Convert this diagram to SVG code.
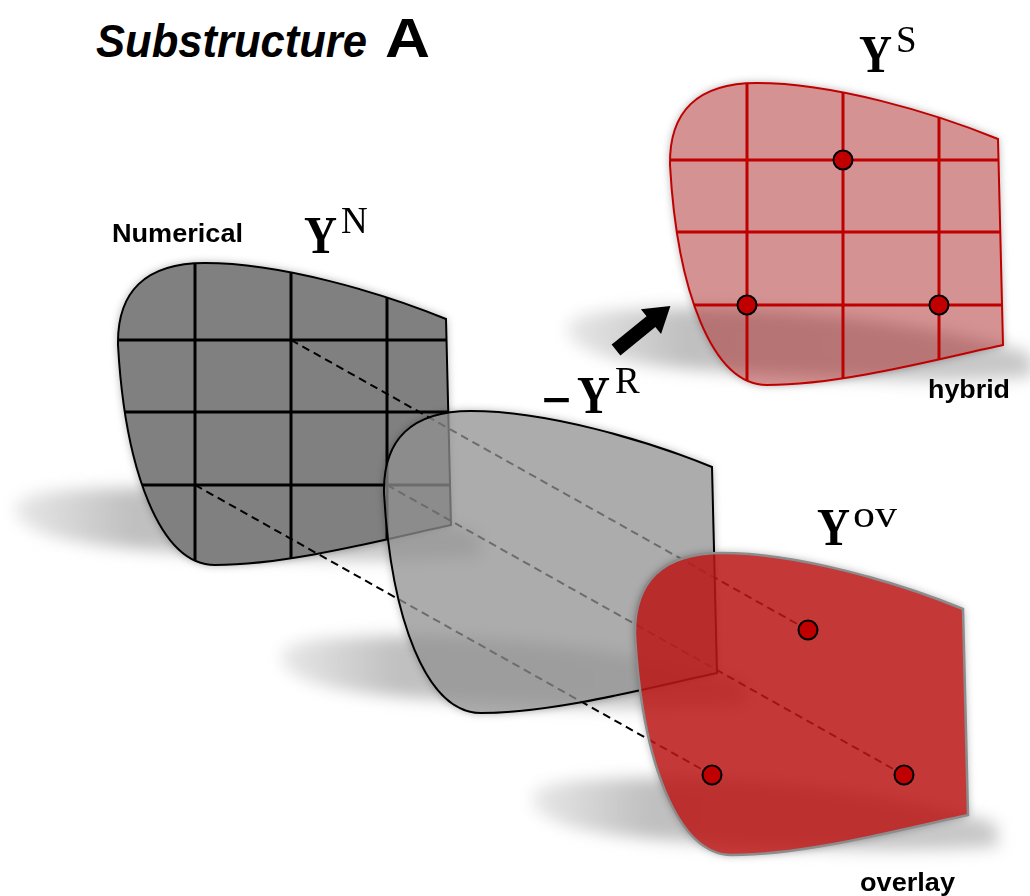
<svg xmlns="http://www.w3.org/2000/svg" width="1030" height="896" viewBox="0 0 1030 896">
<defs>
<style>
.lbl{font-family:"Liberation Sans",Arial,sans-serif;font-weight:bold;fill:#000}
.my{font-family:"Liberation Serif","Times New Roman",serif;font-weight:bold;font-size:52px;fill:#000}
.ms{font-family:"Liberation Serif","Times New Roman",serif;font-size:37px;fill:#000}
.minus{font-family:"DejaVu Serif",serif;font-weight:bold;font-size:38px;fill:#000}
.dash{stroke:#000;stroke-width:2;stroke-dasharray:8 5;fill:none}
.dot{fill:#c00000;stroke:#000;stroke-width:2}
</style>
<path id="shape" d="M118,345 C117,292 145,263 205,263 C280,263 380,292 446,319 L451,525 C390,538 290,565 215,565 C160,565 125,470 118,345 Z"/>
<clipPath id="clip"><use href="#shape"/></clipPath>
<linearGradient id="shg" x1="0" x2="1" y1="0" y2="0">
<stop offset="0" stop-color="#e8e8e8"/>
<stop offset="0.25" stop-color="#c0c0c0"/>
<stop offset="1" stop-color="#c8c8c8"/>
</linearGradient>
<path id="shadow" d="M15,508 C15,492 60,488 150,488 C280,490 400,510 478,533 L482,556 C400,563 300,560 150,550 C60,544 15,530 15,508 Z"/>
<filter id="blur" x="-20%" y="-60%" width="140%" height="220%"><feGaussianBlur stdDeviation="8"/></filter>
<filter id="halo" x="-10%" y="-10%" width="120%" height="120%">
<feGaussianBlur in="SourceAlpha" stdDeviation="4" result="b"/>
<feComposite in="b" in2="SourceAlpha" operator="out" result="o"/>
<feColorMatrix in="o" type="matrix" values="0 0 0 0 0 0 0 0 0 0 0 0 0 0 0 0 0 0 0.35 0"/>
</filter>
<g id="gridLines">
<line x1="195" y1="250" x2="195" y2="580"/>
<line x1="291" y1="250" x2="291" y2="580"/>
<line x1="387" y1="250" x2="387" y2="580"/>
<line x1="100" y1="340" x2="470" y2="340"/>
<line x1="100" y1="412" x2="470" y2="412"/>
<line x1="100" y1="485" x2="470" y2="485"/>
</g>
<g id="dots">
<circle class="dot" cx="291" cy="340" r="9.5"/>
<circle class="dot" cx="195" cy="485" r="9.5"/>
<circle class="dot" cx="387" cy="485" r="9.5"/>
</g>
</defs>
<rect width="1030" height="896" fill="#fff"/>
<g id="shadows" filter="url(#blur)">
<use href="#shadow" fill="url(#shg)"/>
<use href="#shadow" fill="url(#shg)" transform="translate(266,148)"/>
<use href="#shadow" fill="url(#shg)" transform="translate(517,290)"/>
<use href="#shadow" fill="url(#shg)" transform="translate(552,-180)"/>
</g>
<g id="title">
<text class="lbl" x="96" y="57" font-size="47" font-style="italic" textLength="271" lengthAdjust="spacingAndGlyphs">Substructure</text>
<text class="lbl" x="385" y="57" font-size="55" textLength="45" lengthAdjust="spacingAndGlyphs">A</text>
</g>
<g id="node-numerical">
<use href="#shape" filter="url(#halo)"/>
<use href="#shape" fill="#808080"/>
<use href="#gridLines" stroke="#000" stroke-width="3" clip-path="url(#clip)"/>
<use href="#shape" fill="none" stroke="#000" stroke-width="2"/>
<text class="lbl" x="112" y="242" font-size="25" textLength="131" lengthAdjust="spacingAndGlyphs">Numerical</text>
<text class="my" x="304" y="253" textLength="33" lengthAdjust="spacingAndGlyphs">Y</text>
<text class="ms" x="341" y="233">N</text>
</g>
<g id="connectors">
<line class="dash" x1="291" y1="340" x2="808" y2="630"/>
<line class="dash" x1="195" y1="485" x2="712" y2="775"/>
<line class="dash" x1="387" y1="485" x2="904" y2="775"/>
<polygon points="0,-7 45,-7 45,-16 70,0 45,16 45,7 0,7" transform="translate(616,350) rotate(-39)" fill="#000"/>
</g>
<g id="node-residual">
<g transform="translate(266,148)">
<use href="#shape" filter="url(#halo)"/>
<use href="#shape" fill="#909090" fill-opacity="0.75" stroke="#000" stroke-width="2"/>
</g>
<text class="minus" x="540" y="412" textLength="33" lengthAdjust="spacingAndGlyphs">−</text>
<text class="my" x="577" y="413" textLength="33" lengthAdjust="spacingAndGlyphs">Y</text>
<text class="ms" x="615" y="393" font-size="35">R</text>
</g>
<g id="node-overlay">
<g transform="translate(517,290)">
<use href="#shape" filter="url(#halo)"/>
<use href="#shape" fill="#bb1717" fill-opacity="0.86" stroke="#8c8c8c" stroke-width="2.5"/>
<use href="#dots"/>
</g>
<text class="my" x="817" y="545" font-size="50" textLength="33" lengthAdjust="spacingAndGlyphs">Y</text>
<text class="ms" x="853" y="527" font-size="40" textLength="44" lengthAdjust="spacingAndGlyphs">ov</text>
<text class="lbl" x="860" y="891" font-size="26" textLength="95" lengthAdjust="spacingAndGlyphs">overlay</text>
</g>
<g id="node-hybrid">
<g transform="translate(552,-180)">
<use href="#shape" filter="url(#halo)"/>
<use href="#shape" fill="#a92525" fill-opacity="0.5"/>
<use href="#gridLines" stroke="#c00000" stroke-width="3" clip-path="url(#clip)"/>
<use href="#shape" fill="none" stroke="#c00000" stroke-width="2"/>
<use href="#dots"/>
</g>
<text class="my" x="859" y="72" textLength="33" lengthAdjust="spacingAndGlyphs">Y</text>
<text class="ms" x="896" y="52">S</text>
<text class="lbl" x="928" y="398" font-size="25" textLength="82" lengthAdjust="spacingAndGlyphs">hybrid</text>
</g>
</svg>
